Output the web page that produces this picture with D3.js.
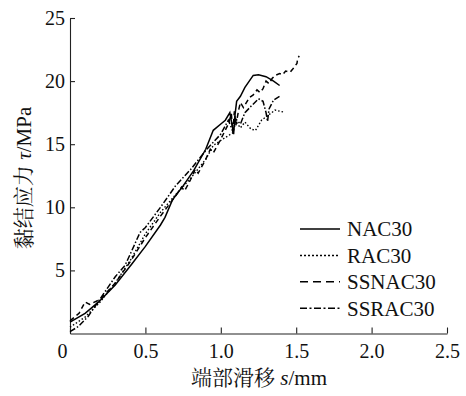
<!DOCTYPE html>
<html>
<head>
<meta charset="utf-8">
<script src="https://cdn.jsdelivr.net/npm/d3@7"></script>
<style>
  body { margin: 0; background: #fff; }
</style>
</head>
<body>
<div id="chart"></div>
<script>
    // series values: [slip s (mm), bond stress tau (MPa)]
    const nac30 = [[0,0.9],[0.1,1.6],[0.19,2.5],[0.3,3.85],[0.41,5.5],[0.5,6.9],[0.6,8.6],[0.63,9.2],
        [0.68,10.6],[0.75,11.7],[0.82,12.9],[0.9,14.6],[0.95,16.1],[1.0,16.6],[1.03,16.9],[1.06,17.5],
        [1.075,16.5],[1.085,15.8],[1.095,17.4],[1.105,18.4],[1.13,18.8],[1.16,19.5],[1.215,20.45],
        [1.25,20.5],[1.3,20.35],[1.35,20.0],[1.39,19.65]];
    const rac30 = [[0,0.5],[0.1,1.3],[0.2,2.5],[0.3,4.0],[0.4,5.8],[0.5,7.9],[0.6,9.6],[0.7,11.0],
        [0.8,12.3],[0.9,13.8],[0.95,14.9],[1.0,15.3],[1.04,15.6],[1.08,15.9],[1.1,16.8],[1.13,16.3],
        [1.16,16.75],[1.2,16.2],[1.23,16.1],[1.27,16.9],[1.315,17.3],[1.36,17.7],[1.415,17.55]];
    const ssnac30 = [[0,1.0],[0.06,1.6],[0.1,2.5],[0.13,2.3],[0.2,2.7],[0.3,4.0],[0.4,5.7],[0.5,7.6],
        [0.6,9.3],[0.7,10.9],[0.74,11.6],[0.76,11.3],[0.8,12.2],[0.83,13.0],[0.85,12.7],[0.9,13.8],
        [0.93,14.6],[0.95,14.3],[1.0,15.4],[1.05,16.6],[1.07,17.4],[1.08,16.0],[1.09,17.6],[1.1,16.5],
        [1.12,17.8],[1.13,18.3],[1.15,17.9],[1.19,18.7],[1.215,18.9],[1.24,19.3],[1.26,19.1],[1.28,19.4],
        [1.3,20.0],[1.32,19.8],[1.34,20.2],[1.36,20.45],[1.39,20.6],[1.41,20.5],[1.43,20.8],[1.46,20.7],
        [1.48,21.0],[1.505,21.4],[1.51,21.8],[1.52,22.0]];
    const ssrac30 = [[0,0.15],[0.055,0.55],[0.12,1.35],[0.18,2.4],[0.3,4.5],[0.365,5.4],[0.4,6.3],
        [0.464,8.0],[0.5,8.4],[0.6,10.0],[0.7,11.7],[0.8,13.0],[0.9,14.5],[1.0,15.8],[1.05,16.9],
        [1.08,16.0],[1.1,17.0],[1.13,16.6],[1.16,17.5],[1.2,18.0],[1.25,18.6],[1.28,18.4],[1.3,17.5],
        [1.31,16.8],[1.32,17.8],[1.35,18.5],[1.39,18.8]];

    const seriesNames = ["NAC30", "RAC30", "SSNAC30", "SSRAC30"];
    const seriesData = [nac30, rac30, ssnac30, ssrac30];
    const dashes = [null, "1.5,2", "5,3.5", "6,2,1.5,2"];
    const legendDashes = [null, "2,2", "8,5", "7,2.5,2,2.5"];

    const xTicks = [0, 0.5, 1.0, 1.5, 2.0, 2.5];
    const yTicks = [5, 10, 15, 20, 25];

    const serif = "Liberation Serif";
    const cjk = "Noto Serif CJK SC";

    const width = 466, height = 396;
    const plotLeft = 70, plotRight = 447, plotTop = 18, plotBottom = 333.5;

    const svg = d3.select("#chart")
        .append("svg")
        .attr("width", width)
        .attr("height", height);

    const x = d3.scaleLinear().domain([0, 2.5]).range([plotLeft, plotRight]);
    const y = d3.scaleLinear().domain([0, 25]).range([plotBottom, plotTop]);

    // x axis, ticks pointing inward
    const xAxis = svg.append("g")
        .attr("transform", `translate(0,${plotBottom})`)
        .call(d3.axisBottom(x)
            .tickValues(xTicks)
            .tickSizeInner(-6)
            .tickSizeOuter(0)
            .tickPadding(10)
            .tickFormat(d => d === 0 ? "0" : d.toFixed(1)));

    xAxis.attr("font-family", serif).attr("font-size", 20);
    xAxis.selectAll("text").attr("fill", "#111");
    xAxis.selectAll("text").filter(d => d === 0).attr("x", -8);

    const yAxis = svg.append("g")
        .attr("transform", `translate(${plotLeft},0)`)
        .call(d3.axisLeft(y)
            .tickValues(yTicks)
            .tickSizeInner(-5)
            .tickSizeOuter(0)
            .tickPadding(5));

    yAxis.attr("font-family", serif).attr("font-size", 20);
    yAxis.selectAll("text").attr("fill", "#111");

    svg.selectAll(".domain, .tick line").attr("stroke", "#222").attr("stroke-width", 1.1);

    const line = d3.line()
        .x(d => x(d[0]))
        .y(d => y(d[1]));

    svg.append("g")
        .selectAll("path")
        .data(seriesData)
        .join("path")
        .attr("d", line)
        .attr("fill", "none")
        .attr("stroke", "#000")
        .attr("stroke-width", (d, i) => i === 1 ? 1.4 : 1.5)
        .attr("stroke-dasharray", (d, i) => dashes[i]);

    // legend
    const legend = svg.append("g")
        .attr("font-family", serif)
        .selectAll("g")
        .data(seriesNames)
        .join("g")
        .attr("transform", (d, i) => `translate(300,${229 + i * 26.4})`);

    legend.append("line")
        .attr("x1", 0)
        .attr("x2", 40)
        .attr("stroke", "#000")
        .attr("stroke-width", 1.5)
        .attr("stroke-dasharray", (d, i) => legendDashes[i]);

    legend.append("text")
        .attr("x", 47)
        .attr("dy", "0.35em")
        .attr("font-size", 21)
        .attr("fill", "#111")
        .text(d => d);

    // axis titles
    const xTitle = svg.append("text")
        .attr("x", 259)
        .attr("y", 385)
        .attr("text-anchor", "middle")
        .attr("font-family", serif)
        .attr("font-size", 21)
        .attr("fill", "#111");
    xTitle.append("tspan").attr("font-family", cjk).text("端部滑移 ");
    xTitle.append("tspan").attr("font-style", "italic").text("s");
    xTitle.append("tspan").text("/mm");

    const yTitle = svg.append("text")
        .attr("transform", "translate(31,178) rotate(-90)")
        .attr("text-anchor", "middle")
        .attr("font-family", serif)
        .attr("font-size", 21)
        .attr("fill", "#111");
    yTitle.append("tspan").attr("font-family", cjk).text("黏结应力 ");
    yTitle.append("tspan").attr("font-style", "italic").text("τ");
    yTitle.append("tspan").text("/MPa");
</script>
</body>
</html>
